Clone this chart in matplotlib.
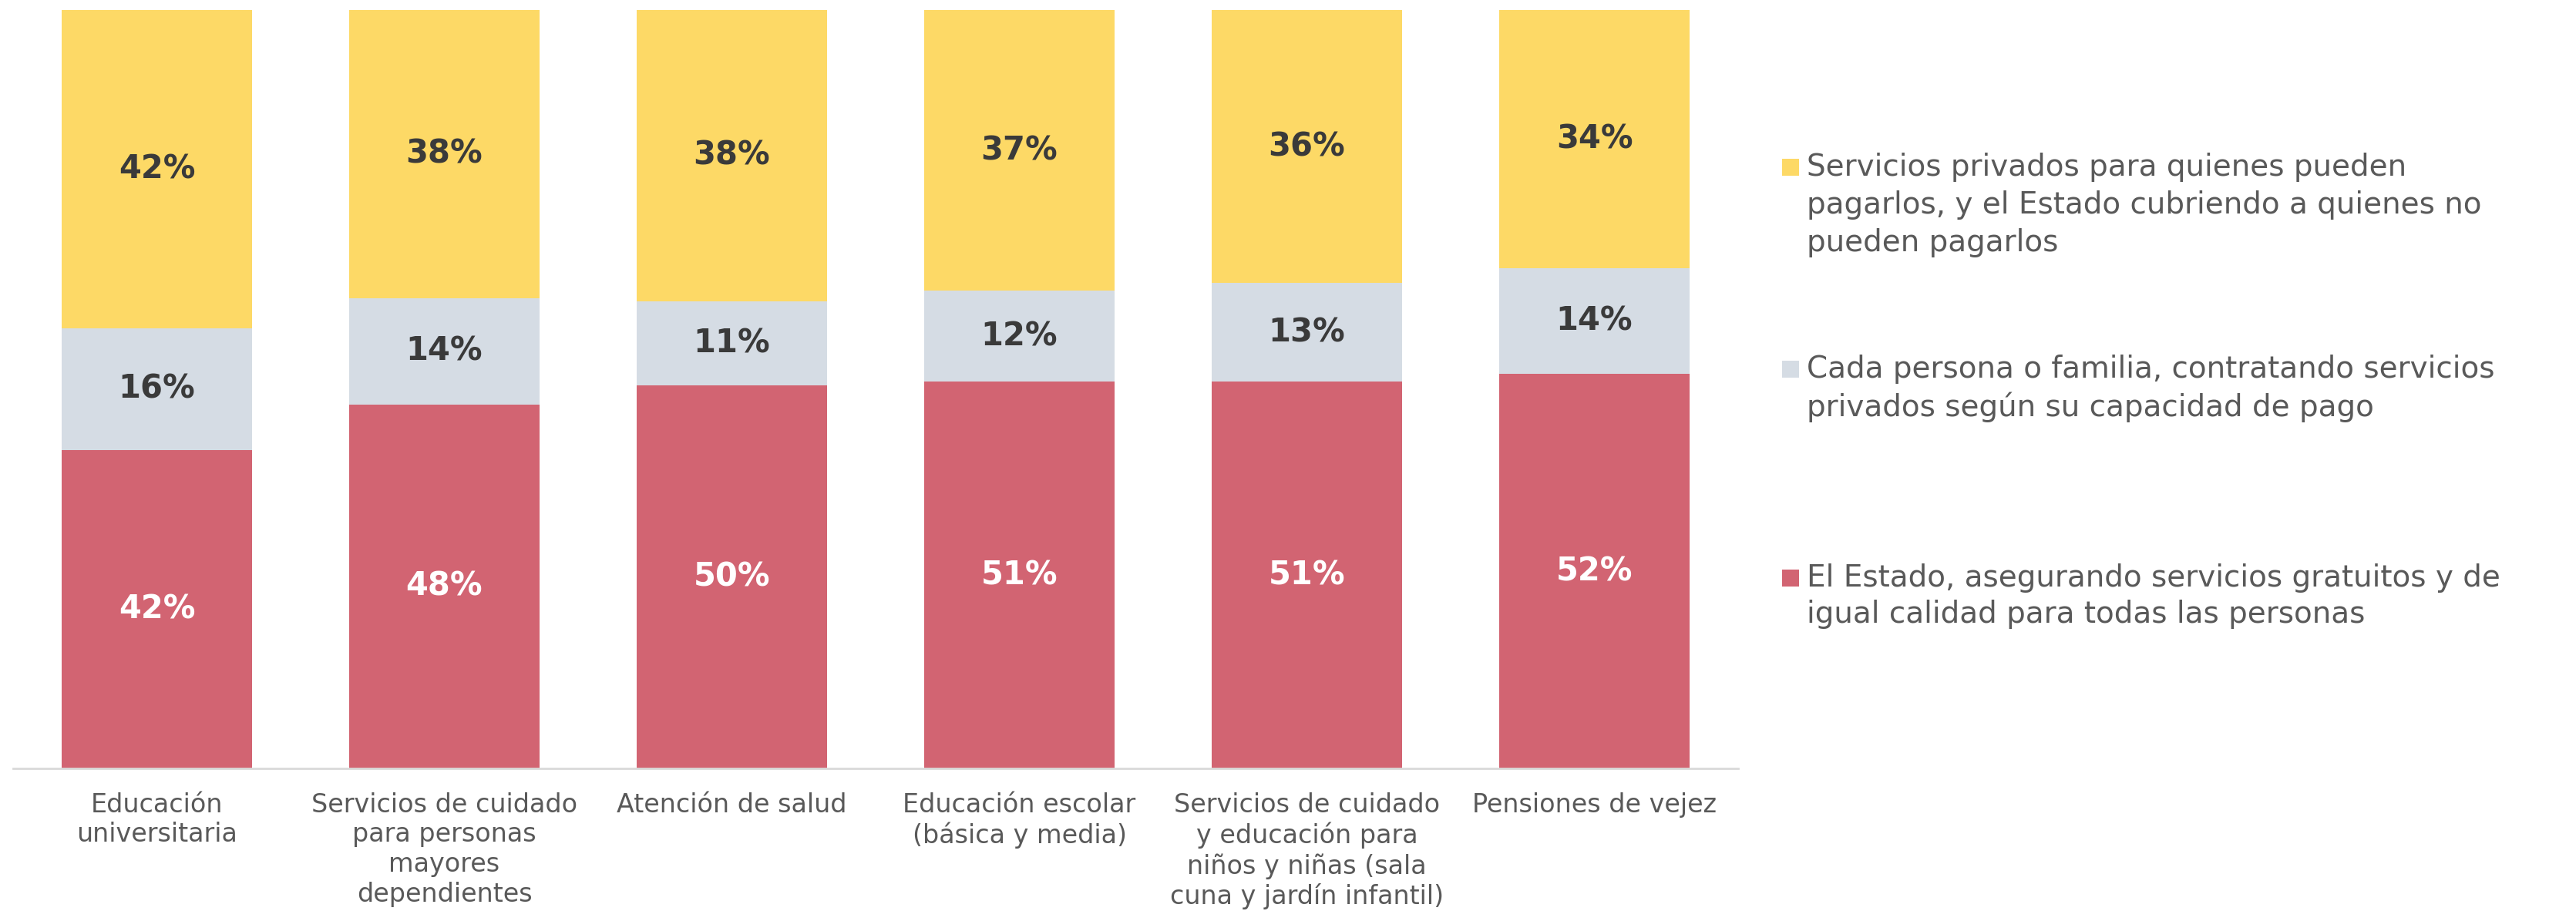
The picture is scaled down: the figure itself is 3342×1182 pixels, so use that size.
import matplotlib
matplotlib.use("Agg")
import matplotlib.pyplot as plt
from matplotlib.patches import Rectangle
import numpy as np

plt.rcParams['font.family'] = ['DejaVu Sans']

categories = [
    "Educación\nuniversitaria",
    "Servicios de cuidado\npara personas\nmayores\ndependientes",
    "Atención de salud",
    "Educación escolar\n(básica y media)",
    "Servicios de cuidado\ny educación para\nniños y niñas (sala\ncuna y jardín infantil)",
    "Pensiones de vejez",
]
estado = [42, 48, 50, 51, 51, 52]
cada_persona = [16, 14, 11, 12, 13, 14]
privados = [42, 38, 38, 37, 36, 34]

series_names = [
    "Servicios privados para quienes pueden\npagarlos, y el Estado cubriendo a quienes no\npueden pagarlos",
    "Cada persona o familia, contratando servicios\nprivados según su capacidad de pago",
    "El Estado, asegurando servicios gratuitos y de\nigual calidad para todas las personas",
]

c_red = "#D26472"
c_grey = "#D5DCE4"
c_yellow = "#FDD966"
dark = "#3A3A3A"

W, H, DPI = 3342, 1182, 200
fig = plt.figure(figsize=(W / DPI, H / DPI), dpi=DPI)
ax = fig.add_axes([17 / W, 1 - 997 / H, (2255 - 17) / W, (997 - 13) / H])

r = np.array(estado, float)
g = np.array(cada_persona, float)
y = np.array(privados, float)
tot = r + g + y
rn, gn, yn = r / tot * 100, g / tot * 100, y / tot * 100

x = np.arange(len(categories))
bw = 0.66
ax.bar(x, rn, bw, color=c_red, linewidth=0)
ax.bar(x, gn, bw, bottom=rn, color=c_grey, linewidth=0)
ax.bar(x, yn, bw, bottom=rn + gn, color=c_yellow, linewidth=0)

for i in range(len(x)):
    ax.text(x[i], rn[i] / 2, f"{estado[i]}%", ha="center", va="center",
            color="white", fontsize=15, fontweight="bold")
    ax.text(x[i], rn[i] + gn[i] / 2, f"{cada_persona[i]}%", ha="center", va="center",
            color=dark, fontsize=15, fontweight="bold")
    ax.text(x[i], rn[i] + gn[i] + yn[i] / 2, f"{privados[i]}%", ha="center", va="center",
            color=dark, fontsize=15, fontweight="bold")

ax.set_xlim(-0.5, 5.5)
ax.set_ylim(0, 100)
ax.set_yticks([])
ax.set_xticks(x)
ax.set_xticklabels(categories, fontsize=12, color="#595959", linespacing=1.22)
ax.tick_params(axis="x", length=0, pad=11)
for s in ["top", "left", "right"]:
    ax.spines[s].set_visible(False)
ax.spines["bottom"].set_color("#D9D9D9")
ax.spines["bottom"].set_linewidth(1.0)

# legend (manual)
colors = [c_yellow, c_grey, c_red]
line_centers = [[217, 266, 315], [479, 528], [750, 797]]
sq = 22
for name, col, ys in zip(series_names, colors, line_centers):
    lines = name.split("\n")
    fig.patches.append(Rectangle((2312 / W, 1 - (ys[0] + sq / 2) / H), sq / W, sq / H,
                                 transform=fig.transFigure, color=col, linewidth=0))
    for ln, yc in zip(lines, ys):
        fig.text(2344 / W, 1 - yc / H, ln, ha="left", va="center", fontsize=14,
                 color="#595959")

fig.savefig("out.png", dpi=DPI)
